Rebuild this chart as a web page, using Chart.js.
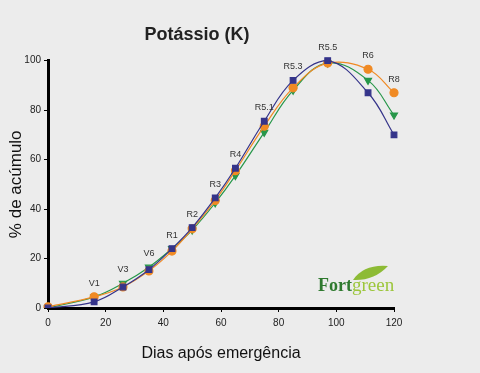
<!DOCTYPE html>
<html>
<head>
<meta charset="utf-8">
<script src="https://cdn.jsdelivr.net/npm/chart.js@4/dist/chart.umd.min.js"></script>
<style>
  html, body { margin: 0; padding: 0; background: #ececec; }
  #wrap { width: 480px; height: 373px; }
</style>
</head>
<body>
<div id="wrap"><canvas id="chart-k" width="480" height="373"></canvas></div>
<script>
// days after emergence
const days = [0, 16, 26, 35, 43, 50, 58, 65, 75, 85, 97, 111, 120];
const stages = ['', 'V1', 'V3', 'V6', 'R1', 'R2', 'R3', 'R4', 'R5.1', 'R5.3', 'R5.5', 'R6', 'R8'];

const blueValues = [0, 2.5, 8.5, 15.5, 24, 32.5, 44.5, 56.5, 75.5, 92, 100, 87, 70];
const orangeValues = [0.5, 4.5, 8.5, 15, 23, 32, 43.5, 55.5, 73.5, 89, 99, 96.5, 87];
const greenValues = [0, 4.5, 10, 16.5, 24, 31.5, 42.5, 53.5, 71, 88, 99, 92, 78];

const xTicks = [0, 20, 40, 60, 80, 100, 120];
const yTicks = [0, 20, 40, 60, 80, 100];

const FONT = '"Liberation Sans", Arial, sans-serif';

function toPoints(values) {
    return days.map((d, i) => ({ x: d, y: values[i] }));
}

function createDataSet(values, color, style, rotation) {
    return {
        data: toPoints(values),
        borderColor: color,
        backgroundColor: color,
        borderWidth: 1.2,
        pointStyle: style,
        pointRotation: rotation || 0,
        pointRadius: 4,
        tension: 0.4,
        clip: { left: 10, right: 10, top: 10, bottom: 0 },
    }
}

const background = {
    id: 'background',
    beforeDraw(chart) {
        const ctx = chart.ctx;
        ctx.save();
        ctx.fillStyle = '#ececec';
        ctx.fillRect(0, 0, chart.width, chart.height);
        ctx.restore();
    }
};

const stageLabels = {
    id: 'stageLabels',
    afterDatasetsDraw(chart) {
        const ctx = chart.ctx;
        const xs = chart.scales.x;
        const ys = chart.scales.y;
        ctx.save();
        ctx.font = '9px ' + FONT;
        ctx.fillStyle = '#333';
        ctx.textAlign = 'center';
        ctx.textBaseline = 'bottom';
        for (let i = 0; i < days.length; i++) {
            if (!stages[i]) continue;
            const top = Math.max(blueValues[i], orangeValues[i], greenValues[i]);
            ctx.fillText(stages[i], xs.getPixelForValue(days[i]), ys.getPixelForValue(top) - 9);
        }
        ctx.restore();
    }
};

const logo = {
    id: 'logo',
    afterDraw(chart) {
        const ctx = chart.ctx;
        ctx.save();
        const x = 318, y = 291;
        ctx.font = 'bold 18px "Liberation Serif", serif';
        ctx.fillStyle = '#2f7a2f';
        ctx.textBaseline = 'alphabetic';
        ctx.fillText('Fort', x, y);
        const w = ctx.measureText('Fort').width;
        ctx.font = '19px "Liberation Serif", serif';
        ctx.fillStyle = '#9cc63b';
        ctx.fillText('green', x + w, y);
        // leaf
        ctx.beginPath();
        ctx.moveTo(x + w + 1, y - 11);
        ctx.quadraticCurveTo(x + w + 12, y - 27, x + w + 36, y - 25);
        ctx.quadraticCurveTo(x + w + 22, y - 10, x + w + 1, y - 11);
        ctx.fillStyle = '#8dbb35';
        ctx.fill();
        ctx.restore();
    }
};

const axisStyle = {
    grid: { drawOnChartArea: false, drawTicks: true, tickLength: 4, color: '#000', lineWidth: 1 },
    border: { color: '#000', width: 3 },
};

const ctx = document.getElementById('chart-k');
new Chart(ctx, {
    type: 'line',
    data: {
        datasets: [
            createDataSet(blueValues, '#35348a', 'rect'),
            createDataSet(orangeValues, '#f08a24', 'circle'),
            createDataSet(greenValues, '#27974a', 'triangle', 180),
        ]
    },
    options: {
        responsive: false,
        animation: false,
        layout: { padding: { top: 0, right: 86, left: 0, bottom: 0 } },
        plugins: {
            legend: { display: false },
            tooltip: { enabled: false },
            title: {
                display: true,
                text: 'Potássio (K)',
                color: '#222',
                font: { family: FONT, size: 18, weight: 'bold' },
                padding: { top: 24, bottom: 15 },
            },
        },
        scales: {
            x: {
                type: 'linear',
                min: 0,
                max: 120,
                afterBuildTicks: (s) => { s.ticks = xTicks.map(v => ({ value: v })); },
                afterFit: (s) => { s.height = 65; },
                ticks: { color: '#222', font: { family: FONT, size: 10 }, padding: 5 },
                title: {
                    display: true,
                    text: 'Dias após emergência',
                    color: '#111',
                    font: { family: FONT, size: 16 },
                    padding: { top: 12, bottom: 10 },
                },
                ...axisStyle,
            },
            y: {
                min: 0,
                max: 100,
                afterBuildTicks: (s) => { s.ticks = yTicks.map(v => ({ value: v })); },
                afterFit: (s) => { s.width = 48; },
                ticks: { color: '#222', font: { family: FONT, size: 10 }, padding: 3 },
                title: {
                    display: true,
                    text: '% de acúmulo',
                    color: '#111',
                    font: { family: FONT, size: 17 },
                    padding: { top: 6, bottom: 2 },
                },
                ...axisStyle,
            },
        },
    },
    plugins: [background, stageLabels, logo],
});
</script>
</body>
</html>
